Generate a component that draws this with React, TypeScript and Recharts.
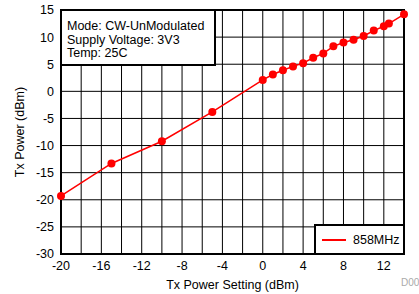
import React from 'react';
import {
   LineChart,
   Line,
   XAxis,
   YAxis,
   CartesianGrid,
   ReferenceArea
} from 'recharts';

const powerSetting = [-20, -15, -10, -5, 0, 1, 2, 3, 4, 5, 6, 7, 8, 9, 10, 11, 12, 12.5, 14];
const txPower = [-19.3, -13.3, -9.2, -3.8, 2.1, 3.1, 3.9, 4.6, 5.2, 6.2, 7.0, 8.3, 9.0, 9.5, 10.2, 11.2, 12.0, 12.5, 14.2];

const xTicks = [-20, -16, -12, -8, -4, 0, 4, 8, 12];
const xGrid = [-18, -16, -14, -12, -10, -8, -6, -4, -2, 0, 2, 4, 6, 8, 10, 12];
const yTicks = [-30, -25, -20, -15, -10, -5, 0, 5, 10, 15];
const yGrid = [-25, -20, -15, -10, -5, 0, 5, 10];

const infoLines = ['Mode: CW-UnModulated', 'Supply Voltage: 3V3', 'Temp: 25C'];
const seriesName = '858MHz';

const data = powerSetting.map((x, i) => ({ x, y: txPower[i] }));

const font = 'Arial, "Liberation Sans", sans-serif';
const fs = 12.5;

const Marker = (props: any) => {
   const { cx, cy } = props;
   if (cx == null || cy == null) return null;
   return <circle cx={cx} cy={cy} r={4} fill='#ff0000' stroke='none' />;
};

export default function App() {
   return (
      <div style={{ position: 'absolute', left: 0, top: 0, width: 419, height: 294, background: '#fff' }}>
         <LineChart width={419} height={294} data={data} margin={{ top: 10, right: 15, bottom: 0, left: 0 }}>
            <CartesianGrid
               stroke='#000'
               strokeWidth={1}
               verticalValues={xGrid}
               horizontalValues={yGrid}
            />
            <XAxis
               dataKey='x'
               type='number'
               domain={[-20, 14]}
               ticks={xTicks}
               interval={0}
               axisLine={false}
               tickLine={false}
               tickSize={0}
               tickMargin={7}
               height={40}
               tick={{ fill: '#000', fontSize: fs, fontFamily: font }}
               label={{ value: 'Tx Power Setting (dBm)', position: 'insideBottom', offset: 5, fill: '#000', fontSize: fs, fontFamily: font }}
            />
            <YAxis
               type='number'
               domain={[-30, 15]}
               ticks={yTicks}
               interval={0}
               axisLine={false}
               tickLine={false}
               tickSize={0}
               tickMargin={7}
               width={61}
               tick={{ fill: '#000', fontSize: fs, fontFamily: font }}
               label={{ value: 'Tx Power (dBm)', angle: -90, position: 'insideLeft', offset: 20, fill: '#000', fontSize: fs, fontFamily: font, style: { textAnchor: 'middle' } }}
            />
            <ReferenceArea x1={-20} x2={14} y1={-30} y2={15} fill='none' stroke='#000' strokeWidth={2} ifOverflow='visible' />
            <Line
               dataKey='y'
               name={seriesName}
               stroke='#ff0000'
               strokeWidth={1.5}
               dot={<Marker />}
               activeDot={false}
               isAnimationActive={false}
            />
         </LineChart>
         <div
            style={{
               position: 'absolute',
               left: 60,
               top: 9,
               width: 156,
               height: 57,
               border: '2px solid #000',
               background: '#fff',
               fontFamily: font,
               fontSize: fs,
               lineHeight: '13.5px',
               color: '#000',
               padding: '9px 0 0 5px',
               boxSizing: 'border-box'
            }}
         >
            {infoLines.map((t) => (
               <div key={t}>{t}</div>
            ))}
         </div>
         <div
            style={{
               position: 'absolute',
               left: 314,
               top: 224,
               width: 91,
               height: 31,
               border: '2px solid #000',
               background: '#fff',
               display: 'flex',
               alignItems: 'center',
               fontFamily: font,
               fontSize: fs,
               color: '#000',
               boxSizing: 'border-box'
            }}
         >
            <span style={{ display: 'inline-block', width: 24, height: 2, background: '#ff0000', marginLeft: 6, marginRight: 7 }} />
            {seriesName}
         </div>
         <div style={{ position: 'absolute', left: 401, top: 277, fontFamily: font, fontSize: 10, color: '#aaa', whiteSpace: 'nowrap' }}>
            D007
         </div>
      </div>
   );
}
